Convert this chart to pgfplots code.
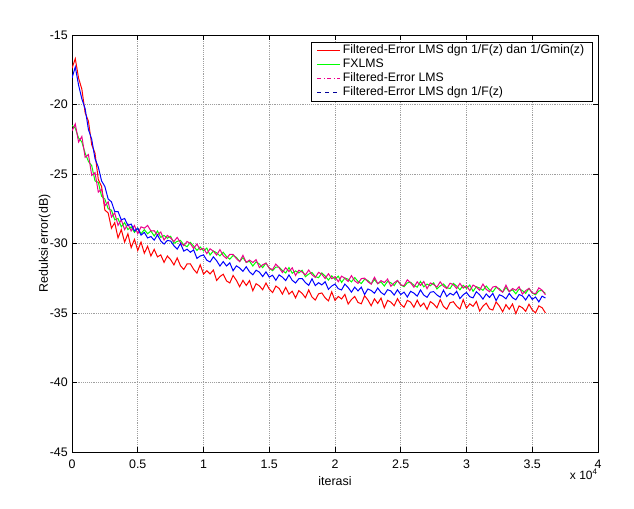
\documentclass[border=0pt]{standalone}
\usepackage{pgfplots}
\pgfplotsset{compat=1.18}
\usepackage{pgfplotstable}
\usepackage{fontspec}
\setmainfont{Liberation Sans}

\pgfplotstableread{
x r g m b
0.000 -17.40 -21.50 -21.90 -18.10
0.025 -16.70 -21.70 -21.40 -17.30
0.050 -18.10 -22.40 -22.70 -18.60
0.075 -18.90 -22.70 -22.30 -19.60
0.100 -20.60 -23.50 -23.80 -20.30
0.125 -21.20 -24.10 -23.60 -21.80
0.150 -22.90 -24.40 -25.10 -22.50
0.175 -23.50 -25.50 -24.90 -23.90
0.200 -25.40 -25.60 -26.30 -24.50
0.225 -25.90 -26.60 -26.10 -25.50
0.250 -27.60 -26.80 -27.30 -25.90
0.275 -27.80 -27.50 -27.00 -26.80
0.300 -28.90 -27.60 -28.10 -27.00
0.325 -28.50 -28.30 -27.80 -27.70
0.350 -29.60 -28.20 -28.70 -27.70
0.375 -29.00 -28.80 -28.30 -28.30
0.400 -29.90 -28.50 -29.00 -28.20
0.425 -29.30 -29.00 -28.60 -28.70
0.450 -30.30 -28.80 -29.10 -28.60
0.475 -29.70 -29.20 -28.70 -29.10
0.500 -30.50 -28.90 -29.30 -28.90
0.525 -29.90 -29.30 -28.80 -29.40
0.550 -30.70 -29.00 -28.90 -29.20
0.575 -30.20 -29.30 -28.70 -29.60
0.600 -30.90 -29.10 -29.10 -29.50
0.625 -30.42 -29.46 -29.08 -29.76
0.650 -30.96 -29.10 -29.39 -29.38
0.675 -30.82 -29.56 -29.17 -29.82
0.700 -31.36 -29.42 -29.75 -30.04
0.725 -30.90 -29.62 -29.42 -29.78
0.750 -31.16 -29.48 -29.60 -29.82
0.775 -31.54 -29.99 -29.86 -30.16
0.800 -31.04 -29.85 -29.56 -30.41
0.825 -31.60 -29.78 -29.94 -30.00
0.850 -31.87 -30.10 -30.16 -30.55
0.875 -31.47 -30.23 -29.85 -30.41
0.900 -31.46 -29.92 -30.01 -30.63
0.925 -31.86 -30.18 -30.36 -30.46
0.950 -32.13 -30.50 -30.04 -31.07
0.975 -31.53 -30.25 -30.45 -30.90
1.000 -32.20 -30.53 -30.34 -30.82
1.025 -31.96 -30.33 -30.73 -31.20
1.050 -32.19 -30.83 -30.38 -31.33
1.075 -31.91 -30.54 -30.56 -30.96
1.100 -32.66 -30.67 -30.83 -31.24
1.125 -32.38 -30.89 -30.44 -31.62
1.150 -32.21 -30.63 -30.87 -31.30
1.175 -32.69 -30.94 -31.08 -31.62
1.200 -32.84 -31.13 -30.78 -31.39
1.225 -32.30 -30.86 -30.78 -31.96
1.250 -32.65 -31.00 -31.09 -31.61
1.275 -33.11 -31.29 -31.30 -31.76
1.300 -32.65 -31.02 -30.85 -32.00
1.325 -33.02 -31.36 -31.36 -31.67
1.350 -32.67 -31.28 -31.19 -32.04
1.375 -33.40 -31.62 -31.37 -32.25
1.400 -32.89 -31.32 -31.16 -31.92
1.425 -33.05 -31.48 -31.73 -32.06
1.450 -33.33 -31.73 -31.53 -32.38
1.475 -32.84 -31.41 -31.41 -32.04
1.500 -33.28 -31.78 -31.77 -32.42
1.525 -33.53 -31.95 -31.88 -32.28
1.550 -33.06 -31.70 -31.48 -32.65
1.575 -33.23 -31.70 -31.74 -32.26
1.600 -33.64 -31.95 -32.09 -32.42
1.625 -33.16 -32.12 -31.74 -32.67
1.650 -33.64 -31.73 -32.02 -32.26
1.675 -33.43 -32.14 -31.75 -32.65
1.700 -33.91 -31.97 -32.30 -32.84
1.725 -33.39 -32.12 -31.92 -32.53
1.750 -33.59 -31.93 -32.05 -32.52
1.775 -33.90 -32.39 -32.26 -32.81
1.800 -33.34 -32.20 -31.91 -33.01
1.825 -33.85 -32.09 -32.25 -32.54
1.850 -34.07 -32.38 -32.44 -33.03
1.875 -33.62 -32.46 -32.08 -32.82
1.900 -33.56 -32.12 -32.21 -32.98
1.925 -33.91 -32.34 -32.52 -32.75
1.950 -34.13 -32.63 -32.17 -33.30
1.975 -33.48 -32.33 -32.53 -33.06
2.000 -34.10 -32.58 -32.39 -32.92
2.025 -33.81 -32.35 -32.75 -33.25
2.050 -33.99 -32.80 -32.35 -33.34
2.075 -33.66 -32.48 -32.50 -32.92
2.100 -34.36 -32.57 -32.73 -33.17
2.125 -34.03 -32.76 -32.31 -33.50
2.150 -33.81 -32.45 -32.69 -33.14
2.175 -34.24 -32.73 -32.87 -33.41
2.200 -34.34 -32.88 -32.53 -33.14
2.225 -33.76 -32.57 -32.49 -33.67
2.250 -34.06 -32.66 -32.75 -33.27
2.275 -34.48 -32.91 -32.92 -33.38
2.300 -33.98 -32.60 -32.43 -33.58
2.325 -34.31 -32.89 -32.89 -33.20
2.350 -33.93 -32.76 -32.67 -33.52
2.375 -34.63 -33.06 -32.81 -33.69
2.400 -34.09 -32.72 -32.56 -33.32
2.425 -34.22 -32.83 -33.08 -33.42
2.450 -34.48 -33.03 -32.83 -33.71
2.475 -33.97 -32.66 -32.66 -33.33
2.500 -34.38 -32.98 -32.97 -33.67
2.525 -34.59 -33.11 -33.04 -33.50
2.550 -34.09 -32.83 -32.61 -33.85
2.575 -34.22 -32.79 -32.83 -33.44
2.600 -34.59 -33.00 -33.14 -33.57
2.625 -34.08 -33.14 -32.76 -33.79
2.650 -34.53 -32.73 -33.02 -33.34
2.675 -34.29 -33.12 -32.73 -33.71
2.700 -34.74 -32.92 -33.25 -33.87
2.725 -34.18 -33.04 -32.84 -33.51
2.750 -34.35 -32.83 -32.95 -33.46
2.775 -34.63 -33.27 -33.14 -33.70
2.800 -34.04 -33.05 -32.76 -33.86
2.825 -34.53 -32.91 -33.07 -33.36
2.850 -34.73 -33.18 -33.24 -33.81
2.875 -34.26 -33.24 -32.86 -33.58
2.900 -34.19 -32.87 -32.96 -33.71
2.925 -34.51 -33.06 -33.24 -33.44
2.950 -34.72 -33.33 -32.87 -33.96
2.975 -34.04 -33.01 -33.21 -33.69
3.000 -34.65 -33.23 -33.04 -33.52
3.025 -34.34 -32.99 -33.39 -33.83
3.050 -34.52 -33.44 -32.99 -33.91
3.075 -34.17 -33.11 -33.13 -33.47
3.100 -34.86 -33.20 -33.36 -33.69
3.125 -34.51 -33.37 -32.92 -34.00
3.150 -34.29 -33.06 -33.30 -33.63
3.175 -34.70 -33.33 -33.47 -33.88
3.200 -34.79 -33.48 -33.13 -33.59
3.225 -34.20 -33.16 -33.08 -34.11
3.250 -34.50 -33.25 -33.34 -33.69
3.275 -34.91 -33.49 -33.50 -33.79
3.300 -34.40 -33.17 -33.00 -33.98
3.325 -34.73 -33.46 -33.46 -33.59
3.350 -34.35 -33.33 -33.24 -33.90
3.375 -35.04 -33.62 -33.37 -34.05
3.400 -34.49 -33.27 -33.11 -33.67
3.425 -34.62 -33.39 -33.64 -33.77
3.450 -34.88 -33.59 -33.39 -34.06
3.475 -34.37 -33.23 -33.23 -33.68
3.500 -34.78 -33.56 -33.55 -34.02
3.525 -34.99 -33.69 -33.62 -33.85
3.550 -34.49 -33.41 -33.19 -34.20
3.575 -34.62 -33.38 -33.36 -33.79
3.600 -34.99 -33.60 -33.69 -33.92
}\datatable

\begin{document}
\fontsize{9}{11}\selectfont
\begin{tikzpicture}
\path[use as bounding box] (-54pt,-42.75pt) rectangle (421.5pt,339pt);
\begin{axis}[
  name=main,
  at={(0pt,0pt)}, anchor=south west,
  scale only axis,
  width=394.5pt, height=312.75pt,
  xmin=0, xmax=4, ymin=-45, ymax=-15,
  xtick={0,0.5,1,1.5,2,2.5,3,3.5,4},
  xticklabels={0,0.5,1,1.5,2,2.5,3,3.5,4},
  ytick={-45,-40,-35,-30,-25,-20,-15},
  yticklabels={-45,-40,-35,-30,-25,-20,-15},
  tick align=inside,
  major tick length=3.75pt,
  tick style={black, line width=0.4pt},
  axis line style={black, line width=0.5pt},
  grid=major,
  major grid style={densely dotted, gray!75, line width=0.4pt},
  tick label style={font=\fontsize{9.3}{11}\selectfont},
  xticklabel style={yshift=-2.5pt},
  label style={font=\fontsize{9.3}{11}\selectfont},
  xlabel={iterasi},
  ylabel={Reduksi error(dB)},
  xlabel style={at={(axis description cs:0.5,-0.0695)}, anchor=center},
  ylabel style={at={(axis description cs:-0.052,0.5)}, anchor=center},
  legend cell align=left,
  legend style={at={(rel axis cs:0.9905,0.9832)}, anchor=north east,
    draw=black, line width=0.4pt, fill=white,
    font=\fontsize{9.2}{11}\selectfont,
    inner xsep=4.5pt, inner ysep=1pt, row sep=0pt,
    nodes={inner xsep=1.9pt, inner ysep=0.5pt, text height=7pt, text depth=2.5pt}},
  legend image code/.code={\draw[#1] (0pt,0pt) -- (17pt,0pt);},
]
\addplot[red, line width=0.75pt, forget plot] table[x=x, y=r] {\datatable};
\addplot[green, line width=0.75pt, forget plot] table[x=x, y=g] {\datatable};
\addplot[magenta, line width=0.75pt, forget plot] table[x=x, y=m] {\datatable};
\addplot[blue, line width=0.75pt, forget plot] table[x=x, y=b] {\datatable};
\addlegendimage{red, line width=0.4pt}
\addlegendentry{Filtered-Error LMS dgn 1/F(z) dan 1/Gmin(z)}
\addlegendimage{green, line width=0.4pt}
\addlegendentry{FXLMS}
\addlegendimage{magenta, dash dot, line width=0.4pt}
\addlegendentry{Filtered-Error LMS}
\addlegendimage{blue!60!black, dashed, line width=0.4pt}
\addlegendentry{Filtered-Error LMS dgn 1/F(z)}
\end{axis}
\node[anchor=base east, inner sep=0pt, font=\fontsize{9}{11}\selectfont] at ([yshift=-20.6pt]main.south east) {x 10\textsuperscript{4}};
\end{tikzpicture}
\end{document}
